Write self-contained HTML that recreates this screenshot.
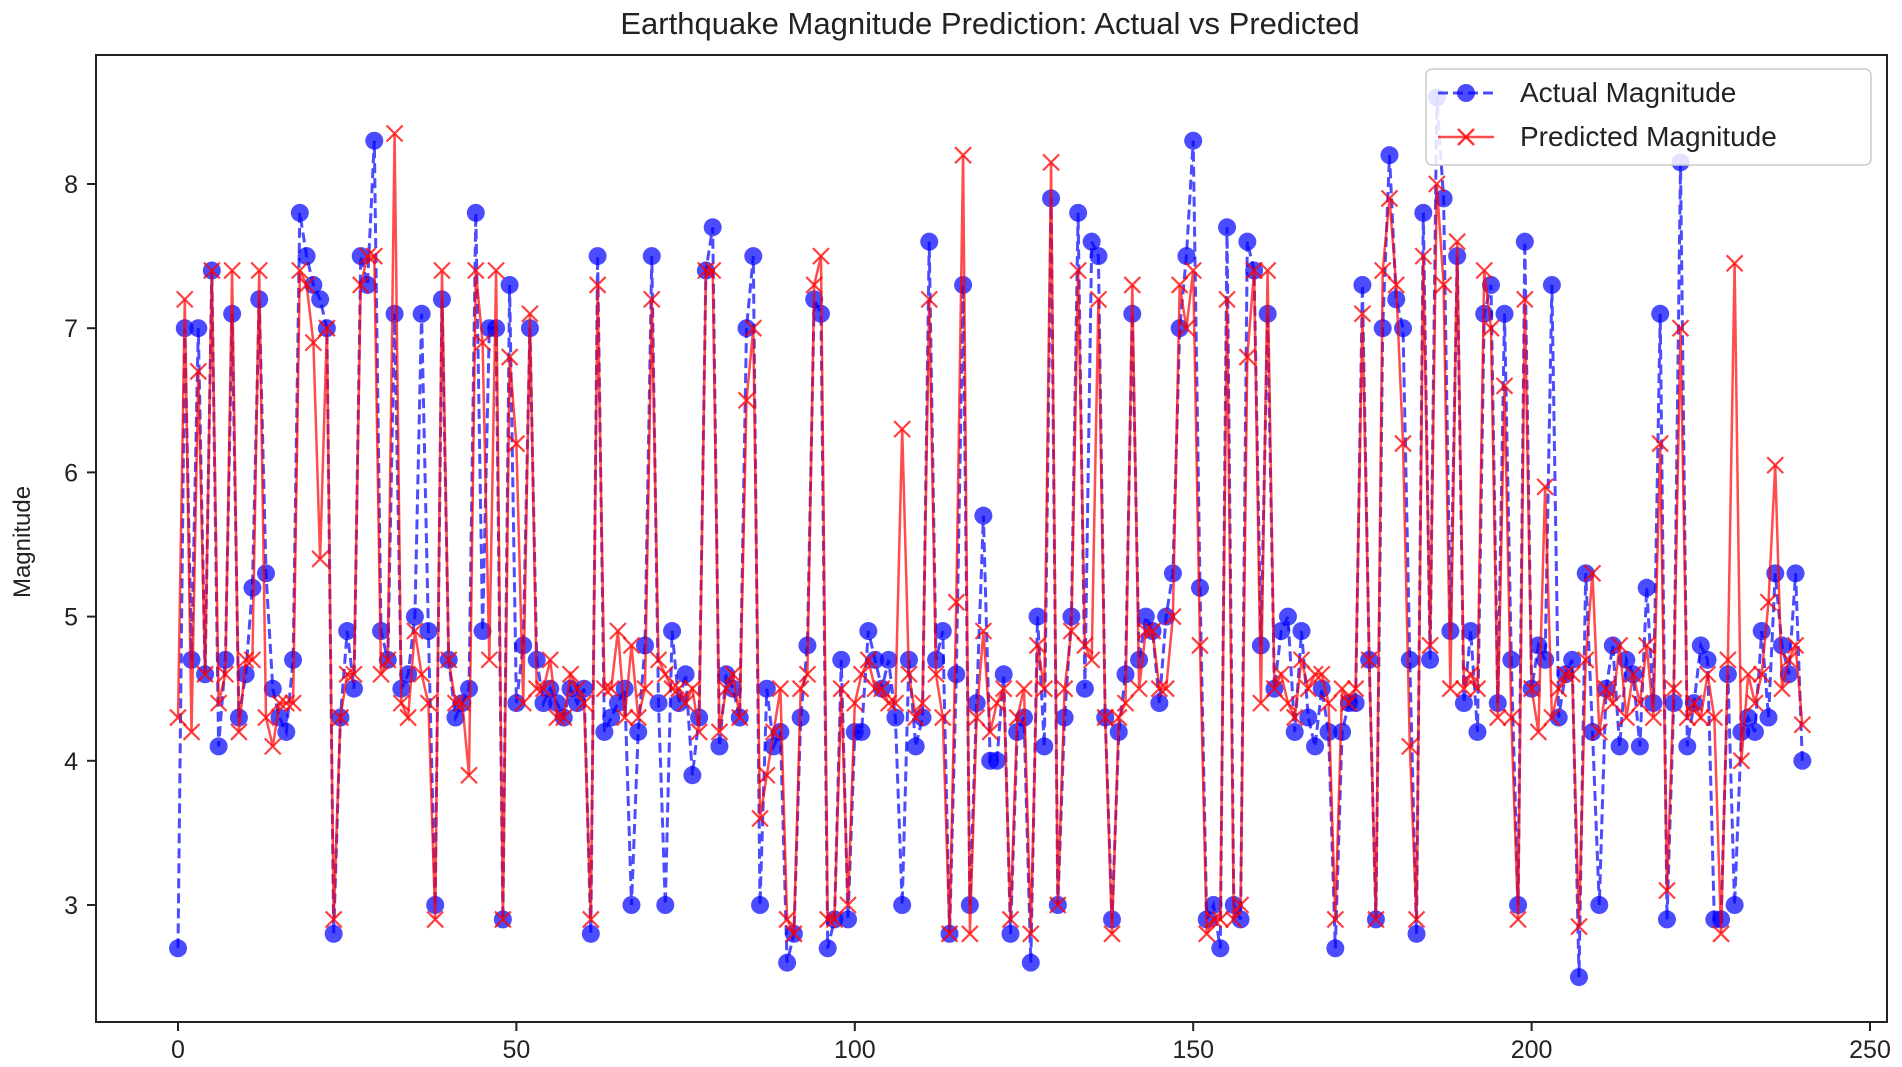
<!DOCTYPE html>
<html><head><meta charset="utf-8"><style>
html,body{margin:0;padding:0;background:#fff;}
svg{display:block;font-family:"Liberation Sans","DejaVu Sans",sans-serif;}
</style></head><body>
<svg id="chart" width="1902" height="1067" viewBox="0 0 1902 1067" xmlns="http://www.w3.org/2000/svg">
<rect width="1902" height="1067" fill="#fff"/>
<text x="990" y="34" font-size="31" text-anchor="middle" fill="#222">Earthquake Magnitude Prediction: Actual vs Predicted</text>
<text transform="translate(30,542) rotate(-90)" font-size="24" text-anchor="middle" fill="#222">Magnitude</text>
<g id="plot"></g>
<rect x="96" y="55" width="1791" height="967" fill="none" stroke="#222" stroke-width="2"/>
<g id="ticks"></g>
<g>
<rect x="1426" y="69" width="445" height="96" rx="6" fill="#fff" fill-opacity="0.85" stroke="#ccc" stroke-width="1.5"/>
<line x1="1438" y1="93" x2="1494" y2="93" stroke="#0000ff" stroke-opacity="0.7" stroke-width="3" stroke-dasharray="10,5"/>
<circle cx="1466" cy="93" r="9" fill="#0000ff" fill-opacity="0.7"/>
<text x="1520" y="102" font-size="28" fill="#222">Actual Magnitude</text>
<line x1="1438" y1="137" x2="1494" y2="137" stroke="#ff0000" stroke-opacity="0.7" stroke-width="2.5"/>
<path d="M1458 129 L1474 145 M1474 129 L1458 145" stroke="#ff0000" stroke-opacity="0.8" stroke-width="2.5"/>
<text x="1520" y="146" font-size="28" fill="#222">Predicted Magnitude</text>
</g>
</svg>
<script>
const actual=[2.7,7.0,4.7,7.0,4.6,7.4,4.1,4.7,7.1,4.3,4.6,5.2,7.2,5.3,4.5,4.3,4.2,4.7,7.8,7.5,7.3,7.2,7.0,2.8,4.3,4.9,4.5,7.5,7.3,8.3,4.9,4.7,7.1,4.5,4.6,5.0,7.1,4.9,3.0,7.2,4.7,4.3,4.4,4.5,7.8,4.9,7.0,7.0,2.9,7.3,4.4,4.8,7.0,4.7,4.4,4.5,4.4,4.3,4.5,4.4,4.5,2.8,7.5,4.2,4.3,4.4,4.5,3.0,4.2,4.8,7.5,4.4,3.0,4.9,4.4,4.6,3.9,4.3,7.4,7.7,4.1,4.6,4.5,4.3,7.0,7.5,3.0,4.5,4.1,4.2,2.6,2.8,4.3,4.8,7.2,7.1,2.7,2.9,4.7,2.9,4.2,4.2,4.9,4.7,4.5,4.7,4.3,3.0,4.7,4.1,4.3,7.6,4.7,4.9,2.8,4.6,7.3,3.0,4.4,5.7,4.0,4.0,4.6,2.8,4.2,4.3,2.6,5.0,4.1,7.9,3.0,4.3,5.0,7.8,4.5,7.6,7.5,4.3,2.9,4.2,4.6,7.1,4.7,5.0,4.9,4.4,5.0,5.3,7.0,7.5,8.3,5.2,2.9,3.0,2.7,7.7,3.0,2.9,7.6,7.4,4.8,7.1,4.5,4.9,5.0,4.2,4.9,4.3,4.1,4.5,4.2,2.7,4.2,4.4,4.4,7.3,4.7,2.9,7.0,8.2,7.2,7.0,4.7,2.8,7.8,4.7,8.6,7.9,4.9,7.5,4.4,4.9,4.2,7.1,7.3,4.4,7.1,4.7,3.0,7.6,4.5,4.8,4.7,7.3,4.3,4.6,4.7,2.5,5.3,4.2,3.0,4.5,4.8,4.1,4.7,4.6,4.1,5.2,4.4,7.1,2.9,4.4,8.15,4.1,4.4,4.8,4.7,2.9,2.9,4.6,3.0,4.2,4.3,4.2,4.9,4.3,5.3,4.8,4.6,5.3,4.0];
const predicted=[4.3,7.2,4.2,6.7,4.6,7.4,4.4,4.6,7.4,4.2,4.7,4.7,7.4,4.3,4.1,4.4,4.4,4.4,7.4,7.3,6.9,5.4,7.0,2.9,4.3,4.6,4.6,7.3,7.5,7.5,4.6,4.7,8.35,4.4,4.3,4.9,4.6,4.4,2.9,7.4,4.7,4.4,4.4,3.9,7.4,6.9,4.7,7.4,2.9,6.8,6.2,4.4,7.1,4.5,4.5,4.7,4.3,4.3,4.6,4.5,4.4,2.9,7.3,4.5,4.5,4.9,4.3,4.8,4.3,4.5,7.2,4.7,4.6,4.5,4.5,4.4,4.5,4.2,7.4,7.4,4.2,4.5,4.6,4.3,6.5,7.0,3.6,3.9,4.2,4.5,2.9,2.8,4.5,4.6,7.3,7.5,2.9,2.9,4.5,3.0,4.4,4.6,4.7,4.5,4.5,4.4,4.4,6.3,4.6,4.3,4.4,7.2,4.6,4.3,2.8,5.1,8.2,2.8,4.3,4.9,4.2,4.4,4.5,2.9,4.3,4.5,2.8,4.8,4.5,8.15,3.0,4.5,4.9,7.4,4.8,4.7,7.2,4.3,2.8,4.3,4.4,7.3,4.5,4.9,4.9,4.5,4.5,5.0,7.3,7.0,7.4,4.8,2.8,2.9,2.9,7.2,2.9,3.0,6.8,7.4,4.4,7.4,4.5,4.6,4.4,4.3,4.7,4.5,4.6,4.6,4.4,2.9,4.5,4.4,4.5,7.1,4.7,2.9,7.4,7.9,7.3,6.2,4.1,2.9,7.5,4.8,8.0,7.3,4.5,7.6,4.5,4.6,4.5,7.4,7.0,4.3,6.6,4.3,2.9,7.2,4.5,4.2,5.9,4.3,4.5,4.6,4.6,2.85,4.7,5.3,4.2,4.5,4.4,4.8,4.3,4.6,4.4,4.8,4.3,6.2,3.1,4.5,7.0,4.3,4.4,4.3,4.6,4.3,2.8,4.7,7.45,4.0,4.6,4.4,4.6,5.1,6.05,4.5,4.7,4.8,4.25];
const xTicks=[0,50,100,150,200,250];
const yTicks=[3,4,5,6,7,8];

const NS="http://www.w3.org/2000/svg";
function xs(v){return 178+v*6.768;}
function ys(v){return 184+(8-v)*144.2;}
function mk(tag,attrs,parent){const e=document.createElementNS(NS,tag);for(const k in attrs)e.setAttribute(k,attrs[k]);parent.appendChild(e);return e;}
const plot=document.getElementById('plot');
const ticks=document.getElementById('ticks');

// actual line
let d=actual.map((v,i)=>(i?'L':'M')+xs(i).toFixed(1)+' '+ys(v).toFixed(1)).join(' ');
const la=mk('path',{d:d,fill:'none',stroke:'#0000ff','stroke-opacity':0.7,'stroke-width':3,'stroke-dasharray':'10,5'},plot);


actual.forEach((v,i)=>{
  const c=mk('circle',{cx:xs(i),cy:ys(v),r:9,fill:'#0000ff','fill-opacity':0.7},plot);
  
  
});
// predicted line
d=predicted.map((v,i)=>(i?'L':'M')+xs(i).toFixed(1)+' '+ys(v).toFixed(1)).join(' ');
const lp=mk('path',{d:d,fill:'none',stroke:'#ff0000','stroke-opacity':0.7,'stroke-width':2.5},plot);


predicted.forEach((v,i)=>{
  const x=xs(i),y=ys(v),s=8;
  const p=mk('path',{d:`M${x-s} ${y-s} L${x+s} ${y+s} M${x+s} ${y-s} L${x-s} ${y+s}`,stroke:'#ff0000','stroke-opacity':0.75,'stroke-width':2.2},plot);
  
  
});
xTicks.forEach(t=>{
  const x=xs(t);
  const l=mk('line',{x1:x,y1:1022,x2:x,y2:1031,stroke:'#222','stroke-width':2},ticks);
  
  
  const tx=mk('text',{x:x,y:1058,'font-size':25,'text-anchor':'middle',fill:'#222'},ticks);
  tx.textContent=t;
  
  
});
yTicks.forEach(t=>{
  const y=ys(t);
  const l=mk('line',{x1:87,y1:y,x2:96,y2:y,stroke:'#222','stroke-width':2},ticks);
  
  
  const tx=mk('text',{x:78,y:y+9,'font-size':25,'text-anchor':'end',fill:'#222'},ticks);
  tx.textContent=t;
  
  
});
</script>
</body></html>
